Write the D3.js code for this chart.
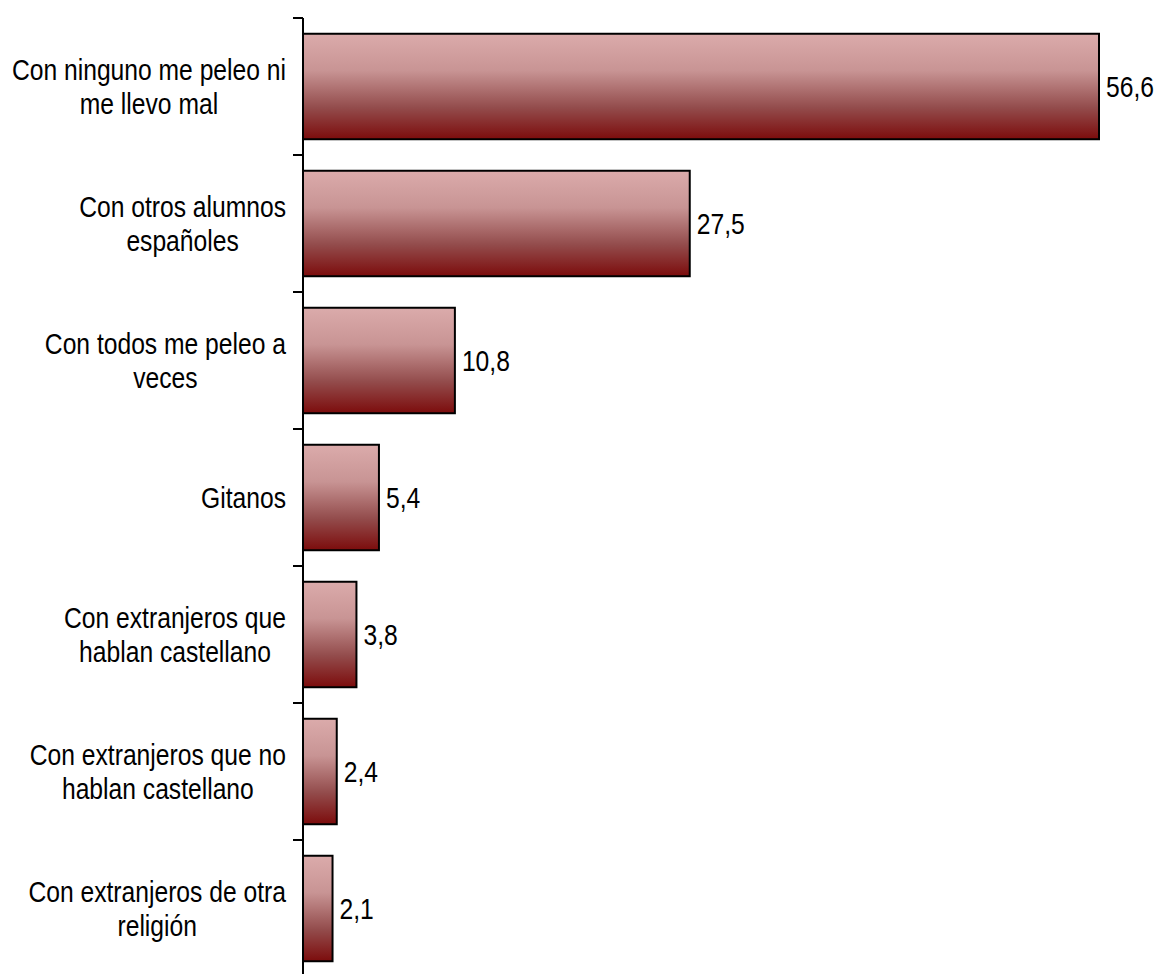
<!DOCTYPE html>
<html>
<head>
<meta charset="utf-8">
<script src="https://cdn.jsdelivr.net/npm/d3@7"></script>
<style>
  body { margin: 0; background: #fff; }
  svg { display: block; font-family: "Liberation Sans", Arial, sans-serif; }
</style>
</head>
<body>
<div class="chart"></div>
<script>
var categories = [
  "Con ninguno me peleo ni\nme llevo mal",
  "Con otros alumnos\nespañoles",
  "Con todos me peleo a\nveces",
  "Gitanos",
  "Con extranjeros que\nhablan castellano",
  "Con extranjeros que no\nhablan castellano",
  "Con extranjeros de otra\nreligión"
];
var values = [56.6, 27.5, 10.8, 5.4, 3.8, 2.4, 2.1];
var valueLabels = ["56,6", "27,5", "10,8", "5,4", "3,8", "2,4", "2,1"];

var width = 1157, height = 974;
var axisX = 303; // value 0
var plotTop = 18, plotBottom = 977;
var fontSize = 29;
var squeeze = 0.85; // narrow-looking font: squeeze horizontally
var lineHeight = 34;

var svg = d3.select(".chart").append("svg")
  .attr("width", width)
  .attr("height", height);

var defs = svg.append("defs");
var grad = defs.append("linearGradient")
  .attr("id", "barGrad")
  .attr("x1", 0).attr("y1", 0).attr("x2", 0).attr("y2", 1);
grad.append("stop").attr("offset", "0%").attr("stop-color", "#dbabab");
grad.append("stop").attr("offset", "35%").attr("stop-color", "#c89494");
grad.append("stop").attr("offset", "70%").attr("stop-color", "#934c4c");
grad.append("stop").attr("offset", "100%").attr("stop-color", "#7c0c0c");

var x = d3.scaleLinear().domain([0, 56.6]).range([axisX, 1099]);
var y = d3.scaleBand().domain(d3.range(categories.length))
  .range([plotTop, plotBottom]).paddingInner(0.23).paddingOuter(0.115);

// band boundaries for ticks
var step = y.step();
var tickYs = d3.range(categories.length).map(function(i) { return plotTop + i * step; });

var axis = svg.append("g");
axis.append("line")
  .attr("x1", axisX).attr("x2", axisX)
  .attr("y1", plotTop).attr("y2", plotBottom)
  .attr("stroke", "#000").attr("stroke-width", 2);
axis.selectAll("line.tick").data(tickYs).enter().append("line")
  .attr("class", "tick")
  .attr("x1", axisX - 10).attr("x2", axisX)
  .attr("y1", function(d) { return d; })
  .attr("y2", function(d) { return d; })
  .attr("stroke", "#000").attr("stroke-width", 2);

var bars = svg.selectAll("g.bar").data(values).enter().append("g").attr("class", "bar");
bars.append("rect")
  .attr("x", x(0))
  .attr("y", function(d, i) { return y(i); })
  .attr("width", function(d) { return x(d) - x(0); })
  .attr("height", y.bandwidth())
  .attr("fill", "url(#barGrad)")
  .attr("stroke", "#000")
  .attr("stroke-width", 2);

bars.append("text")
  .attr("transform", function(d, i) {
    return "translate(" + (x(d) + 7) + "," + (y(i) + y.bandwidth() / 2) + ") scale(" + squeeze + ",1)";
  })
  .attr("dy", "0.35em")
  .attr("font-size", fontSize)
  .attr("fill", "#000")
  .text(function(d, i) { return valueLabels[i]; });

// category labels: block right-aligned, lines centred within the block
var labelRight = 286;
var labels = svg.selectAll("g.label").data(categories).enter().append("g").attr("class", "label");
labels.each(function(d, i) {
  var g = d3.select(this);
  var lines = d.split("\n");
  var cy = plotTop + i * step + step / 2;
  var texts = lines.map(function(line, j) {
    return g.append("text")
      .attr("font-size", fontSize)
      .attr("fill", "#000")
      .attr("text-anchor", "middle")
      .attr("dy", "0.35em")
      .text(line);
  });
  var maxW = squeeze * d3.max(texts, function(t) { return t.node().getComputedTextLength(); });
  texts.forEach(function(t, j) {
    var ty = cy + (j - (lines.length - 1) / 2) * lineHeight;
    t.attr("transform", "translate(" + (labelRight - maxW / 2) + "," + ty + ") scale(" + squeeze + ",1)");
  });
});
</script>
</body>
</html>
